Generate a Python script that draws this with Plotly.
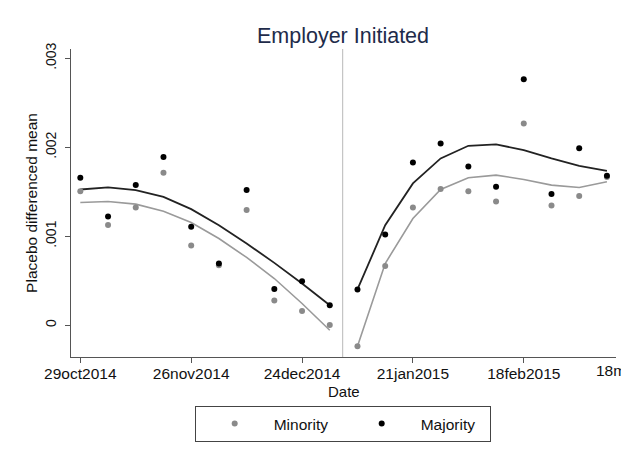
import plotly.graph_objects as go
import pandas as pd

# ---- data (values in original units) ----
dates = ["2014-10-29", "2014-11-05", "2014-11-12", "2014-11-19", "2014-11-26",
         "2014-12-03", "2014-12-10", "2014-12-17", "2014-12-24", "2014-12-31",
         "2015-01-07", "2015-01-14", "2015-01-21", "2015-01-28", "2015-02-04",
         "2015-02-11", "2015-02-18", "2015-02-25", "2015-03-04", "2015-03-11"]

minority = [0.001507, 0.001128, 0.001324, 0.001713, 0.000897,
            0.000675, 0.001294, 0.000278, 0.000161, 0.000003,
            -0.000236, 0.000667, 0.001324, 0.001530, 0.001507,
            0.001391, 0.002269, 0.001346, 0.001454, 0.001665]

majority = [0.001657, 0.001223, 0.001575, 0.001890, 0.001106,
            0.000694, 0.001519, 0.000408, 0.000495, 0.000225,
            0.000402, 0.001020, 0.001830, 0.002044, 0.001783,
            0.001556, 0.002764, 0.001476, 0.001988, 0.001679]

# smoothed fits, before and after the cut
minority_fit = [0.001380, 0.001391, 0.001361, 0.001282, 0.001155,
                0.000975, 0.000762, 0.000525, 0.000244, -0.000056,
                -0.000236, 0.000694, 0.001200, 0.001526, 0.001657,
                0.001687, 0.001639, 0.001575, 0.001549, 0.001612]

majority_fit = [0.001526, 0.001549, 0.001519, 0.001443, 0.001305,
                0.001125, 0.000919, 0.000701, 0.000469, 0.000225,
                0.000402, 0.001125, 0.001594, 0.001875, 0.002017,
                0.002033, 0.001969, 0.001875, 0.001792, 0.001736]

cut_date = "2015-01-03 06:00"
n_pre = 10

tick_dates = ["2014-10-29", "2014-11-26", "2014-12-24", "2015-01-21", "2015-02-18"]
tick_text = ["29oct2014", "26nov2014", "24dec2014", "21jan2015", "18feb2015"]
extra_tick_date = "2015-03-18"
extra_tick_text = "18mar2015"

y_ticks = [0, 0.001, 0.002, 0.003]
y_tick_text = ["0", ".001", ".002", ".003"]

x_range = ["2014-10-26 15:30", "2015-03-13 07:00"]
y_range = [-0.000357, 0.003105]

GRAY = "#8a8a8a"
GRAY_LINE = "#9a9a9a"
BLACK = "#000000"
FONT = "Liberation Sans, Arial, sans-serif"
TXT = "#111111"

# the page body adds an 8px offset; the figure is sized to fit the window
W, H = 621, 449

fig = go.Figure()

# fitted lines (pre / post segments)
for seg in (slice(0, n_pre), slice(n_pre, None)):
    fig.add_trace(go.Scatter(x=dates[seg], y=minority_fit[seg], mode="lines",
                             line=dict(color=GRAY_LINE, width=1.6), showlegend=False,
                             hoverinfo="skip"))
    fig.add_trace(go.Scatter(x=dates[seg], y=majority_fit[seg], mode="lines",
                             line=dict(color="#222222", width=1.8), showlegend=False,
                             hoverinfo="skip"))

fig.add_trace(go.Scatter(x=dates, y=minority, mode="markers", name="Minority",
                         marker=dict(color=GRAY, size=6)))
fig.add_trace(go.Scatter(x=dates, y=majority, mode="markers", name="Majority",
                         marker=dict(color=BLACK, size=6)))

fig.add_shape(type="line", xref="x", yref="paper", x0=cut_date, x1=cut_date,
              y0=0, y1=1, line=dict(color="#c4c4c4", width=1.2), layer="below")

# extra (clipped) tick label beyond the axis end
x0 = pd.Timestamp(x_range[0]); x1 = pd.Timestamp(x_range[1])
frac = (pd.Timestamp(extra_tick_date) - x0) / (x1 - x0)
fig.add_annotation(x=frac, xref="paper", xanchor="center", y=0, yref="paper",
                   yanchor="top", yshift=-3, text=extra_tick_text, showarrow=False,
                   font=dict(family=FONT, size=15.5, color=TXT))

# x-axis title
fig.add_annotation(x=0.5, xref="paper", xanchor="center", y=0, yref="paper",
                   yanchor="middle", yshift=-34, text="Date", showarrow=False,
                   font=dict(family=FONT, size=15, color=TXT))

fig.update_layout(
    width=W, height=H,
    margin=dict(l=63, r=13, t=41, b=100),
    paper_bgcolor="white", plot_bgcolor="white",
    font=dict(family=FONT, size=15.5, color=TXT),
    title=dict(text="Employer Initiated", x=335 / W, xanchor="center",
               y=1 - 27 / H, yanchor="middle",
               font=dict(family=FONT, size=21.5, color="#1e2b4a")),
    showlegend=True,
    legend=dict(orientation="h", x=0.4985, xanchor="center",
                yref="container", y=1 - 398 / H, yanchor="top",
                bordercolor="#444444", borderwidth=1,
                font=dict(family=FONT, size=15.5, color=TXT),
                itemwidth=68, entrywidth=64, entrywidthmode="pixels"),
)

fig.update_xaxes(range=x_range, tickvals=tick_dates, ticktext=tick_text,
                 automargin=False, ticklabelstandoff=-3,
                 showgrid=False, zeroline=False, showline=True, linecolor="#555555",
                 linewidth=1, ticks="outside", ticklen=5, tickcolor="#555555",
                 tickfont=dict(size=15.5))
fig.update_yaxes(range=y_range, tickvals=y_ticks, ticktext=y_tick_text,
                 automargin=False, tickangle=-90, ticklabelstandoff=3,
                 showgrid=False, zeroline=False, showline=True,
                 linecolor="#555555", linewidth=1, ticks="outside", ticklen=5,
                 tickcolor="#555555",
                 title=dict(text="Placebo differenced mean", standoff=1,
                            font=dict(size=15.5)),
                 tickfont=dict(size=14))

fig.write_html("out.html")
